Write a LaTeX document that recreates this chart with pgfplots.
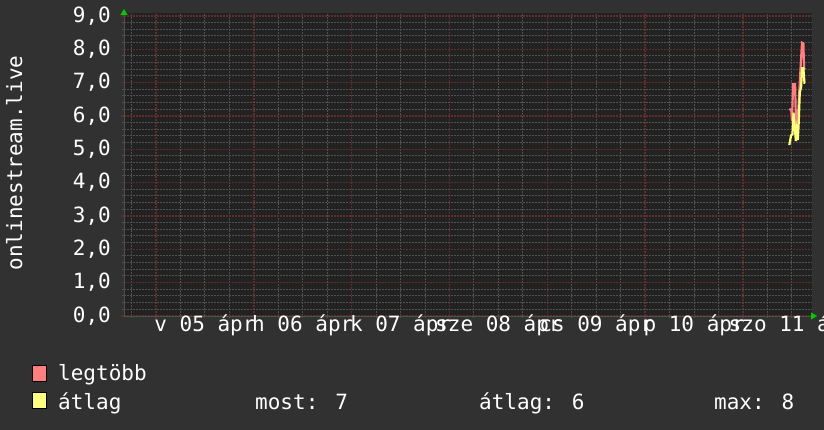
\documentclass[border=0pt]{standalone}
\usepackage{pgfplots}
\pgfplotsset{compat=1.18}
\usepackage{fontspec}
\setmainfont{DejaVu Sans Mono}
\usetikzlibrary{arrows.meta}
\definecolor{bg}{HTML}{313131}
\definecolor{plotbg}{HTML}{222222}
\definecolor{mgrid}{HTML}{5E2D2D}
\definecolor{ngrid}{HTML}{505050}
\definecolor{lred}{HTML}{FF7F7F}
\definecolor{lyel}{HTML}{FFFF7F}
\definecolor{arrowgreen}{HTML}{00CC00}
\newcommand\mono{\fontsize{21bp}{25bp}\selectfont}

\begin{document}
\mono
\begin{tikzpicture}
\useasboundingbox (0,0) rectangle (824bp,430bp);
\fill[bg] (0,0) rectangle (824bp,430bp);
\clip (0,0) rectangle (824bp,430bp);
\begin{axis}[
  at={(124bp,114bp)}, anchor=south west, scale only axis,
  width=688bp, height=303bp,
  xmin=4.673, xmax=11.705, ymin=0, ymax=9.09,
  enlargelimits=false,
  axis lines=left,
  axis background/.style={fill=plotbg},
  x axis line style={draw=ngrid, -{Triangle[length=6bp,width=7bp,color=arrowgreen,fill=arrowgreen]}, shorten >=-5bp},
  y axis line style={draw=ngrid, -{Triangle[length=6bp,width=7bp,color=arrowgreen,fill=arrowgreen]}, shorten >=-4bp},
  xtick={5,6,7,8,9,10,11}, xticklabels={},
  minor xtick={4.75,5.25,5.5,5.75,6.25,6.5,6.75,7.25,7.5,7.75,8.25,8.5,8.75,9.25,9.5,9.75,10.25,10.5,10.75,11.25,11.5},
  ytick={0,1,2,3,4,5,6,7,8,9},
  yticklabels={{0,0},{1,0},{2,0},{3,0},{4,0},{5,0},{6,0},{7,0},{8,0},{9,0}},
  minor ytick={0.2,0.4,0.6,0.8,1.2,1.4,1.6,1.8,2.2,2.4,2.6,2.8,3.2,3.4,3.6,3.8,4.2,4.4,4.6,4.8,5.2,5.4,5.6,5.8,6.2,6.4,6.6,6.8,7.2,7.4,7.6,7.8,8.2,8.4,8.6,8.8},
  grid=both,
  major grid style={draw=mgrid, dash pattern=on 1.5bp off 1.5bp, line width=1.4bp},
  minor grid style={draw=ngrid, dash pattern=on 1.5bp off 1.5bp, line width=1bp},
  tick align=outside,
  major tick length=3bp, minor tick length=2bp,
  major tick style={draw=mgrid, line width=1.4bp},
  minor tick style={draw=ngrid, line width=1bp},
  extra x ticks={5.5,6.5,7.5,8.5,9.5,10.5,11.5},
  extra x tick labels={v 05 ápr, h 06 ápr, k 07 ápr, sze 08 ápr, cs 09 ápr, p 10 ápr, szo 11 ápr},
  extra x tick style={grid=none, major tick length=0pt},
  tick label style={font=\mono, text=white, inner sep=0pt},
  xticklabel style={anchor=base, yshift=-16bp},
  yticklabel style={anchor=east, xshift=-10bp},
]
\addplot[lred, line width=2.2bp, mark=none] coordinates {
(11.473,6.21) (11.493,6.18) (11.500,5.85) (11.512,6.95) (11.532,6.95)
(11.542,5.65) (11.555,5.62) (11.578,6.90) (11.590,7.55) (11.603,8.20)
(11.617,8.18) (11.624,7.42) (11.635,7.40)
};
\addplot[lyel, line width=2.2bp, mark=none] coordinates {
(11.473,5.13) (11.491,5.42) (11.505,5.45) (11.516,6.10) (11.528,5.70)
(11.540,5.25) (11.549,5.55) (11.560,5.28) (11.570,5.85) (11.580,6.70)
(11.594,6.88) (11.603,7.43) (11.617,7.43) (11.628,7.00) (11.635,7.00)
};
\end{axis}
\node[rotate=90, anchor=base, inner sep=0pt, text=white] at (22bp,267bp) {onlinestream.live};
\filldraw[fill=lred, draw=black, line width=1bp] (32bp,48bp) rectangle (46bp,64bp);
\filldraw[fill=lyel, draw=black, line width=1bp] (32bp,21bp) rectangle (46bp,37bp);
\node[anchor=base west, inner sep=0pt, text=white] at (58bp,49bp) {legtöbb};
\node[anchor=base west, inner sep=0pt, text=white] at (58bp,21bp) {átlag};
\node[anchor=base west, inner sep=0pt, text=white] at (255bp,21bp) {most: 7};
\node[anchor=base west, inner sep=0pt, text=white] at (479bp,21bp) {átlag: 6};
\node[anchor=base west, inner sep=0pt, text=white] at (714bp,21bp) {max: 8};
\end{tikzpicture}
\end{document}
